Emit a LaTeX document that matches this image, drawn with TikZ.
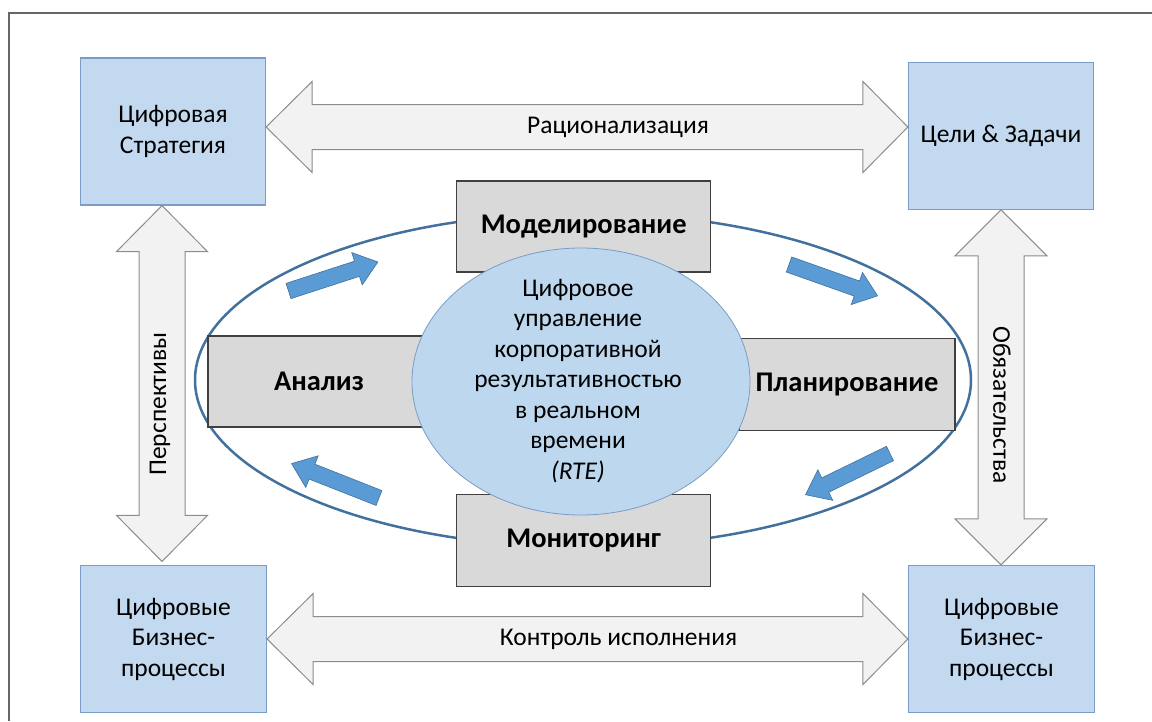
\documentclass[tikz,border=0pt]{standalone}
\usepackage{fontspec}
\setmainfont{Carlito}
\usetikzlibrary{shapes.geometric,calc}

\definecolor{boxblue}{HTML}{C3D9EF}
\definecolor{boxedge}{HTML}{7A9CC6}
\definecolor{arrowgray}{HTML}{F2F2F2}
\definecolor{arrowedge}{HTML}{8C8C8C}
\definecolor{ringblue}{HTML}{41719C}
\definecolor{smallblue}{HTML}{5B9BD5}
\definecolor{coreblue}{HTML}{BDD7EE}

\begin{document}
\begin{tikzpicture}[
    x = 1pt, y = -1pt,
    line join=miter,
    bluebox/.style = {draw=boxedge, fill=boxblue, line width=1.2pt, inner sep=0pt, align=center, font=\fontsize{25.5}{30.5}\selectfont},
    graybox/.style = {draw=black!75, fill=black!15, line width=1.2pt, inner sep=0pt, minimum height=91, font=\bfseries\fontsize{28.5}{32}\selectfont},
    bigarrow/.style = {draw=arrowedge, fill=arrowgray, line width=1pt},
    flowarrow/.style = {draw=ringblue, fill=smallblue, line width=0.6pt},
    arrowtext/.style = {font=\fontsize{25.5}{30}\selectfont}
]

    \useasboundingbox (0,0) rectangle (1152,721);
    \draw[black!60, line width=1.2pt] (9,721) -- (9,13) -- (1152,13);

    % vier Ecken
    \node[bluebox, minimum width=185, minimum height=147] (strat) at (173,131.5) {Цифровая\\Стратегия};
    \node[bluebox, minimum width=185, minimum height=147] (goals) at (1001,135.8) {Цели \& Задачи};
    \node[bluebox, minimum width=186, minimum height=147] (proc1) at (173.5,639) {Цифровые\\Бизнес-\\процессы};
    \node[bluebox, minimum width=186, minimum height=147] (proc2) at (1001.5,639) {Цифровые\\Бизнес-\\процессы};

    \coordinate (ra) at ([yshift=4.5pt]strat.east);
    \coordinate (rb) at (goals.west |- ra);
    \coordinate (pa) at (proc1.east);
    \coordinate (pb) at (proc2.west |- pa);
    \coordinate (sa) at ([xshift=-11pt]strat.south);
    \coordinate (sb) at ([yshift=3.5pt]proc1.north -| sa);
    \coordinate (ga) at (goals.south);
    \coordinate (gb) at (proc2.north -| ga);

    \draw[bigarrow] (ra) -- ++(46,-45.5) -- ++(0,23) -- ($(rb)+(-45,-22.5)$) -- ++(0,-23) -- (rb)
        -- ++(-45,45.5) -- ++(0,-23) -- ($(ra)+(46,22.5)$) -- ++(0,23) -- cycle;
    \draw[bigarrow] (pa) -- ++(46,-45.5) -- ++(0,23) -- ($(pb)+(-45,-22.5)$) -- ++(0,-23) -- (pb)
        -- ++(-45,45.5) -- ++(0,-23) -- ($(pa)+(46,22.5)$) -- ++(0,23) -- cycle;
    \draw[bigarrow] (sa) -- ++(45.5,46) -- ++(-22.5,0) -- ($(sb)+(23,-46)$) -- ++(22.5,0) -- (sb)
        -- ++(-45.5,-46) -- ++(22.5,0) -- ($(sa)+(-23,46)$) -- ++(-22.5,0) -- cycle;
    \draw[bigarrow] (ga) -- ++(46,46) -- ++(-23,0) -- ($(gb)+(23,-46)$) -- ++(23,0) -- (gb)
        -- ++(-46,-46) -- ++(23,0) -- ($(ga)+(-23,46)$) -- ++(-23,0) -- cycle;

    \node[arrowtext] (ratio) at ($(ra)!0.5!(rb)+(31,0)$) {Рационализация};
    \node[arrowtext] (control) at ($(pa)!0.5!(pb)+(31,0)$) {Контроль исполнения};
    \node[arrowtext, rotate=90] (persp) at (160,404) {Перспективы};
    \node[arrowtext, rotate=-90] (oblig) at (1002,405) {Обязательства};

    % Kreislauf in der Mitte
    \node[draw=ringblue, line width=2.5pt, ellipse, inner sep=0pt, minimum width=776, minimum height=334] (ring) at (583,380) {};

    \node[graybox, minimum width=254] (model) at (583.7,226.4) {Моделирование};
    \node[graybox, minimum width=222] (anal) at (319,381.5) {Анализ};
    \node[graybox, minimum width=216, minimum height=92] (plan) at (847,384.7) {Планирование};
    \node[graybox, minimum width=254, minimum height=92] (mon) at (583.7,540.8) {Мониторинг};

    \node[draw=boxedge, fill=coreblue, line width=0.8pt, ellipse, inner sep=0pt, minimum width=338, minimum height=267] (core) at (581,381.5) {};
    \node[align=center, font=\fontsize{25.5}{30.5}\selectfont] (coretext) at (578,381) {Цифровое\\управление\\корпоративной\\результативностью\\в реальном\\времени\\\textit{(RTE)}};

    \foreach \x/\y/\a in {288.5/291/18, 789/264.5/-19.5, 890/453.5/206, 379/498/158.5} {
        \draw[flowarrow, shift={(\x,\y)}, rotate=\a] (0,-8) -- (72,-8) -- (72,-17) -- (94,0) -- (72,17) -- (72,8) -- (0,8) -- cycle;
    }

\end{tikzpicture}
\end{document}
